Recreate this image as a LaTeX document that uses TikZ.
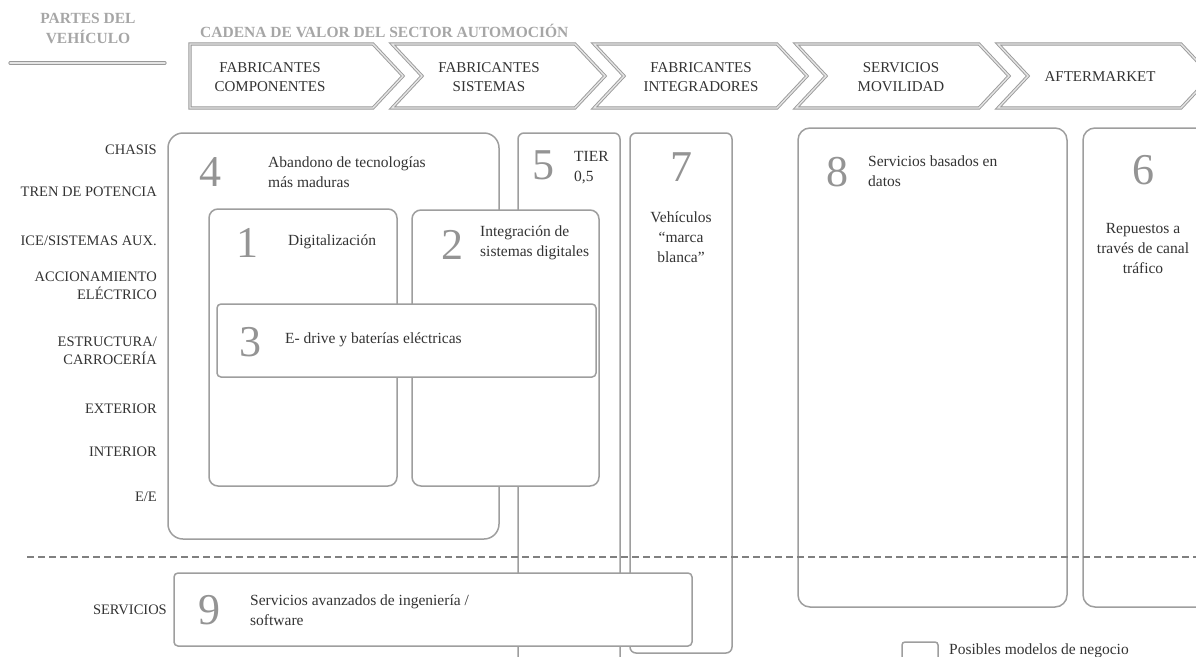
\documentclass[tikz,border=0pt]{standalone}
\usepackage{fontspec}
\setmainfont{Liberation Serif}
\begin{document}
\begin{tikzpicture}[x=1pt,y=-1pt,
  box/.style={draw=black!38, line width=1.5pt, fill=white},
  chev/.style={draw=black!40, line width=0.9pt, double=black!10, double distance=1.4pt, fill=white, line join=miter},
  big/.style={text=black!42, font=\fontsize{44}{44}\selectfont, inner sep=0pt},
  lbl/.style={text=black!80, font=\fontsize{14.5}{18}\selectfont, align=right, anchor=east, inner sep=0pt},
  txt/.style={text=black!80, font=\fontsize{15.5}{20}\selectfont, align=left, anchor=west, inner sep=0pt},
  ctxt/.style={text=black!80, font=\fontsize{15.5}{20}\selectfont, align=center, inner sep=0pt},
  chtxt/.style={text=black!80, font=\fontsize{15}{19}\selectfont, align=center, inner sep=0pt},
  head/.style={text=black!35, font=\bfseries\fontsize{15.5}{20}\selectfont, inner sep=0pt},
  sep/.style={draw=black!50, line width=2pt, dash pattern=on 7pt off 4pt}
]
\useasboundingbox (0,0) rectangle (1196,656);
\clip (0,0) rectangle (1196,656);

% header
\node[head, align=center] (partes) at (88,28) {PARTES DEL\\VEHÍCULO};
\draw[chev, line cap=round] (10,63) -- (165,63);
\node[head, anchor=west] (cadena) at (200,31) {CADENA DE VALOR DEL SECTOR AUTOMOCIÓN};

% value chain chevrons
\draw[chev] (190,44) -- (373,44) -- (403,76) -- (373,108) -- (190,108) -- cycle;
\foreach \L in {392,594,796,998}
  \draw[chev] (\L,44) -- ({\L+183},44) -- ({\L+213},76) -- ({\L+183},108) -- (\L,108) -- ({\L+30},76) -- cycle;
\node[chtxt] (ch1) at (270,77) {FABRICANTES\\COMPONENTES};
\node[chtxt] (ch2) at (489,77) {FABRICANTES\\SISTEMAS};
\node[chtxt] (ch3) at (701,77) {FABRICANTES\\INTEGRADORES};
\node[chtxt] (ch4) at (901,77) {SERVICIOS\\MOVILIDAD};
\node[chtxt] (ch5) at (1100,77) {AFTERMARKET};

% vehicle parts
\node[lbl] (r1) at (157,150) {CHASIS};
\node[lbl] (r2) at (157,192) {TREN DE POTENCIA};
\node[lbl] (r3) at (157,241) {ICE/SISTEMAS AUX.};
\node[lbl] (r4) at (157,286) {ACCIONAMIENTO\\ELÉCTRICO};
\node[lbl] (r5) at (157,351) {ESTRUCTURA/\\CARROCERÍA};
\node[lbl] (r6) at (157,409) {EXTERIOR};
\node[lbl] (r7) at (157,452) {INTERIOR};
\node[lbl] (r8) at (157,497) {E/E};
\node[lbl] (r9) at (167,610) {SERVICIOS};

% business model boxes, back to front
\draw[box, rounded corners=15pt] (168,133) rectangle (499,539);
\draw[box, rounded corners=6pt] (518,133) rectangle (620,690);
\draw[box, rounded corners=9pt] (209,209) rectangle (397,486);
\draw[box, rounded corners=9pt] (412,210) rectangle (599,486);
\draw[box, rounded corners=4pt] (217,304) rectangle (596,377);
\draw[box, rounded corners=6pt] (630,133) rectangle (732,653);
\draw[box, rounded corners=12pt] (798,128) rectangle (1067,607);
\draw[box, rounded corners=12pt] (1083,128) rectangle (1240,607);
\draw[box, rounded corners=4pt] (174,573) rectangle (692,646);

% box contents
\node[big] (n4) at (210,172) {4};
\node[txt] (t4) at (268,172) {Abandono de tecnologías\\más maduras};
\node[big] (n1) at (247,243) {1};
\node[txt] (t1) at (288,242) {Digitalización};
\node[big] (n2) at (452,245) {2};
\node[txt] (t2) at (480,243) {Integración de\\sistemas digitales};
\node[big] (n3) at (250,342) {3};
\node[txt] (t3) at (285,340) {E- drive y baterías eléctricas};
\node[big] (n5) at (543,165) {5};
\node[txt] (t5) at (574,168) {TIER\\0,5};
\node[big] (n7) at (681,167) {7};
\node[ctxt] (t7) at (681,237) {Vehículos\\“marca\\blanca”};
\node[big] (n8) at (837,172) {8};
\node[txt] (t8) at (868,171) {Servicios basados en\\datos};
\node[big] (n6) at (1143,170) {6};
\node[ctxt] (t6) at (1143,248) {Repuestos a\\través de canal\\tráfico};
\node[big] (n9) at (209,610) {9};
\node[txt] (t9) at (250,610) {Servicios avanzados de ingeniería /\\software};

% separator between parts and services
\draw[sep] (27,557) -- (1196,557);

% legend
\draw[box, rounded corners=3pt] (902,642) rectangle (938,668);
\node[txt] (leg) at (949,651) {Posibles modelos de negocio};
\end{tikzpicture}
\end{document}
